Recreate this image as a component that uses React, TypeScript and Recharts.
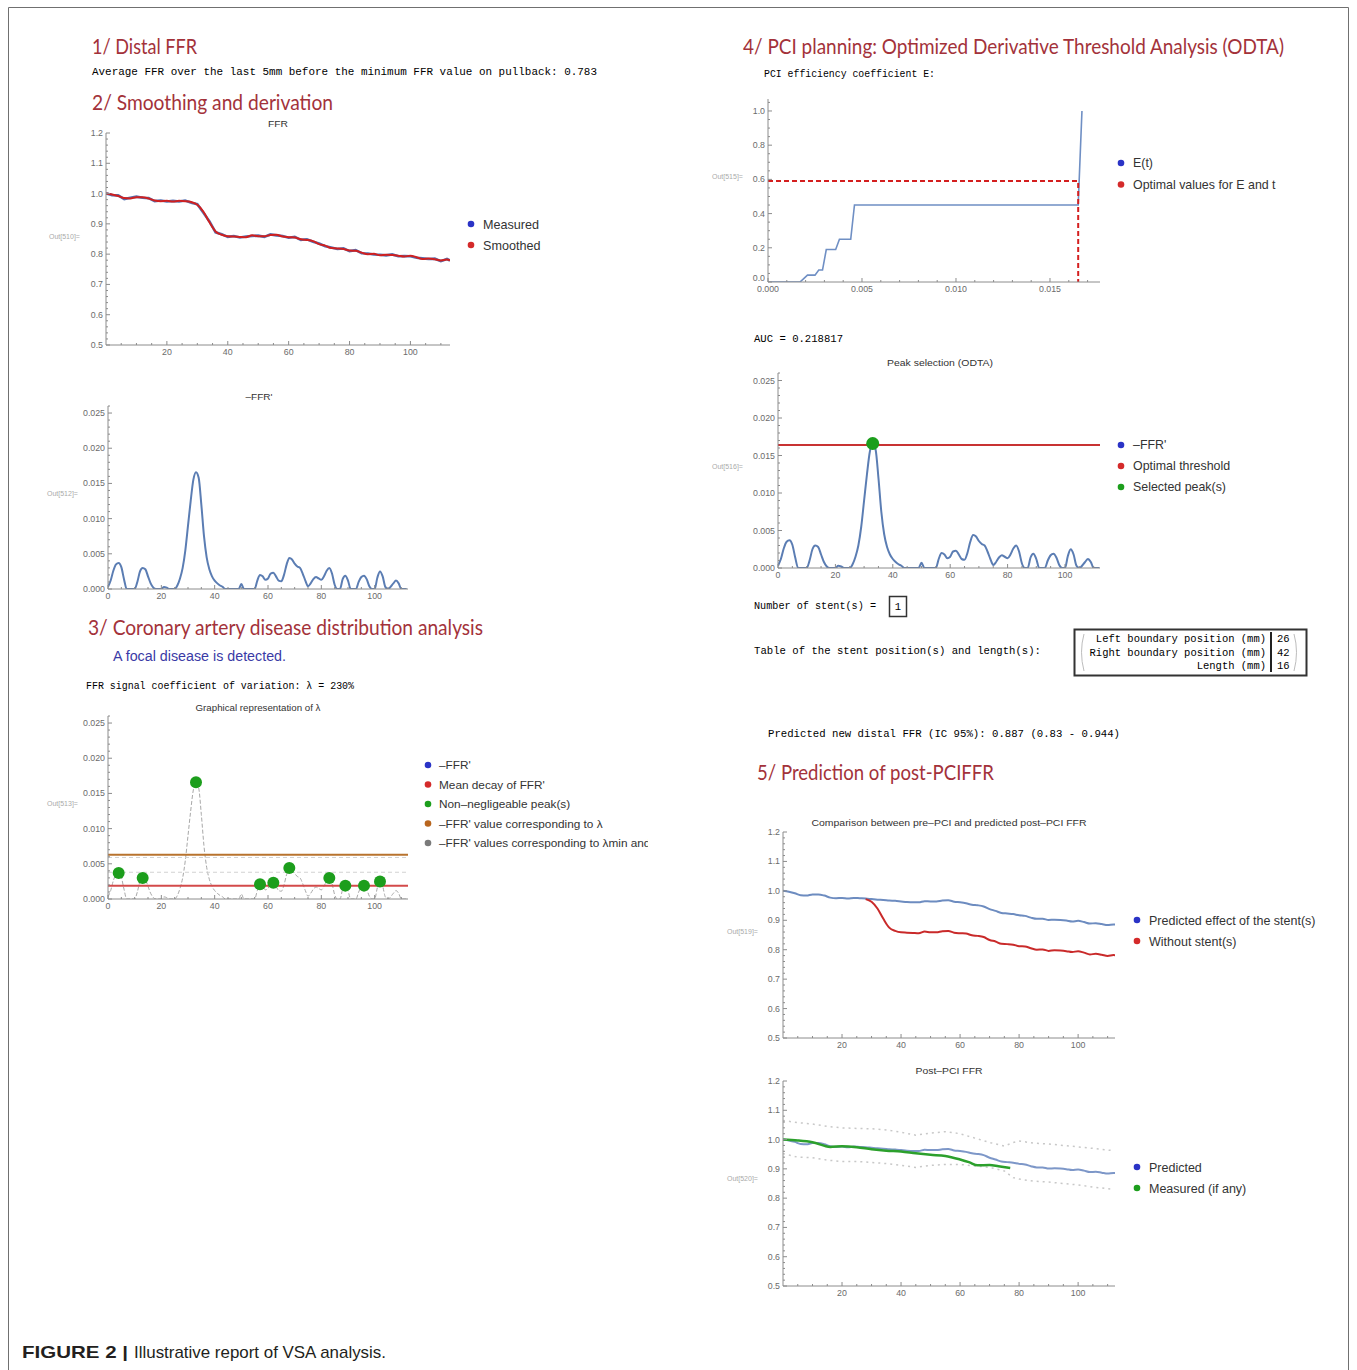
import React from 'react'
import { ComposedChart, Line, XAxis, YAxis, ReferenceLine } from 'recharts'

// pullback position (mm) and FFR
const pullbackMm = [0, 2, 4, 6, 8, 10, 12, 14, 16, 18, 20, 22, 24, 26, 28, 30, 32, 34, 36, 38, 40, 42, 44, 46, 48, 50, 52, 54, 56, 58, 60, 62, 64, 66, 68, 70, 72, 74, 76, 78, 80, 82, 84, 86, 88, 90, 92, 94, 96, 98, 100, 102, 104, 106, 108, 110, 112, 113]
const ffrMeasured = [1.001, 0.995, 0.994, 0.982, 0.986, 0.99, 0.986, 0.985, 0.975, 0.977, 0.974, 0.976, 0.974, 0.977, 0.97, 0.965, 0.937, 0.908, 0.872, 0.866, 0.857, 0.86, 0.855, 0.858, 0.86, 0.861, 0.857, 0.865, 0.862, 0.86, 0.854, 0.857, 0.847, 0.849, 0.841, 0.835, 0.826, 0.822, 0.817, 0.819, 0.81, 0.813, 0.803, 0.802, 0.799, 0.798, 0.796, 0.799, 0.793, 0.794, 0.793, 0.788, 0.786, 0.784, 0.785, 0.777, 0.784, 0.779]
const ffrSmoothed = [1.0, 0.997, 0.992, 0.985, 0.984, 0.988, 0.988, 0.984, 0.977, 0.975, 0.976, 0.974, 0.976, 0.975, 0.972, 0.963, 0.94, 0.905, 0.875, 0.864, 0.859, 0.858, 0.857, 0.856, 0.862, 0.859, 0.859, 0.863, 0.864, 0.858, 0.856, 0.855, 0.849, 0.847, 0.843, 0.833, 0.828, 0.82, 0.819, 0.817, 0.812, 0.811, 0.805, 0.8, 0.801, 0.796, 0.798, 0.797, 0.795, 0.792, 0.795, 0.79, 0.784, 0.786, 0.783, 0.779, 0.782, 0.78]
const postPredicted = [1.0, 0.997, 0.992, 0.985, 0.984, 0.988, 0.988, 0.984, 0.977, 0.975, 0.976, 0.974, 0.976, 0.975, 0.974, 0.972, 0.97, 0.969, 0.967, 0.966, 0.964, 0.962, 0.961, 0.961, 0.965, 0.964, 0.964, 0.967, 0.968, 0.963, 0.961, 0.958, 0.953, 0.951, 0.947, 0.938, 0.932, 0.925, 0.923, 0.921, 0.917, 0.915, 0.909, 0.905, 0.905, 0.901, 0.902, 0.901, 0.899, 0.896, 0.898, 0.894, 0.889, 0.89, 0.887, 0.884, 0.886, 0.885]
const stentStartMm = 28

// -FFR'
const derivMm = [0, 1, 2, 3, 4, 5, 6, 7, 10, 11, 12, 13, 14, 15, 16, 17, 18, 20, 21, 22, 23, 25, 26, 27, 28, 29, 30, 31, 32, 33, 34, 35, 36, 37, 38, 39, 40, 41, 42, 43, 44, 49, 50, 51, 55, 56, 57, 58, 59, 60, 61, 62, 63, 64, 65, 66, 67, 68, 69, 70, 71, 72, 73, 74, 75, 76, 77, 78, 79, 80, 81, 82, 83, 84, 85, 86, 87, 88, 89, 90, 91, 93, 94, 95, 96, 97, 98, 99, 100, 101, 102, 103, 104, 105, 107, 108, 109, 110, 112]
const derivValues = [0.0003, 0.0012, 0.0026, 0.0035, 0.0037, 0.0031, 0.0014, 0, 0, 0.001, 0.0025, 0.003, 0.0028, 0.0018, 0.0008, 0.0002, 0, 0, 0.0003, 0.0002, 0, 0, 0.0005, 0.0015, 0.003, 0.0055, 0.009, 0.0125, 0.0155, 0.0166, 0.0158, 0.012, 0.0075, 0.0045, 0.0028, 0.0018, 0.0012, 0.0008, 0.0005, 0.0003, 0, 0, 0.0007, 0, 0, 0.0012, 0.002, 0.0018, 0.0013, 0.0015, 0.0022, 0.0023, 0.0018, 0.0012, 0.0011, 0.002, 0.0035, 0.0044, 0.0042, 0.0036, 0.0032, 0.003, 0.0022, 0.0012, 0.0004, 0.0008, 0.0014, 0.0017, 0.0015, 0.0013, 0.0018, 0.0026, 0.003, 0.0022, 0.0006, 0, 0, 0.0014, 0.0019, 0.0012, 0, 0, 0.001, 0.0017, 0.0019, 0.0014, 0.0004, 0, 0, 0.0016, 0.0025, 0.0018, 0.0003, 0, 0.0008, 0.0012, 0.0008, 0, 0]
const peakMm = [4, 13, 33, 57, 62, 68, 83, 89, 96, 102]
const peakValues = [0.0037, 0.003, 0.0166, 0.0021, 0.0023, 0.0044, 0.003, 0.0019, 0.0019, 0.0025]
const lambdaLevel = 0.0063
const meanDecay = 0.0019
const lambdaBounds = [0.0059, 0.0038]

// PCI efficiency coefficient
const eT = [0, 0.0017, 0.0019, 0.0021, 0.0025, 0.0027, 0.0029, 0.0031, 0.0036, 0.0038, 0.0044, 0.0046, 0.0165, 0.0167]
const eValues = [0, 0, 0.02, 0.04, 0.04, 0.07, 0.07, 0.19, 0.19, 0.25, 0.25, 0.45, 0.45, 1.0]
const optimalT = 0.0165
const optimalE = 0.59
const odtaThreshold = 0.0164
const selectedPeakMm = [33]
const selectedPeakValues = [0.0166]

// post-PCI
const measuredPostMm = [0, 5, 10, 16, 20, 25, 30, 35, 40, 45, 50, 55, 60, 63, 66, 70, 73, 77]
const measuredPost = [1.0, 0.997, 0.991, 0.975, 0.977, 0.974, 0.967, 0.962, 0.959, 0.953, 0.948, 0.944, 0.932, 0.923, 0.912, 0.913, 0.909, 0.903]
const bandMm = [0, 5, 10, 15, 20, 25, 30, 35, 40, 45, 50, 55, 60, 65, 70, 75, 78, 80, 85, 90, 95, 100, 105, 112]
const bandUpper = [1.065, 1.058, 1.053, 1.045, 1.04, 1.038, 1.037, 1.033, 1.025, 1.015, 1.022, 1.027, 1.02, 1.005, 0.99, 0.978, 0.99, 0.995, 0.988, 0.985, 0.98, 0.975, 0.97, 0.962]
const bandLower = [0.952, 0.94, 0.938, 0.93, 0.925, 0.925, 0.922, 0.918, 0.912, 0.905, 0.912, 0.915, 0.915, 0.91, 0.905, 0.893, 0.87, 0.865, 0.858, 0.855, 0.85, 0.845, 0.838, 0.83]

// ticks
const mmTicks = [20, 40, 60, 80, 100]
const mmTicksZero = [0, 20, 40, 60, 80, 100]
const ffrTicks = [0.5, 0.6, 0.7, 0.8, 0.9, 1.0, 1.1, 1.2]
const derivTicks = [0, 0.005, 0.01, 0.015, 0.02, 0.025]
const eTicksX = [0, 0.005, 0.01, 0.015]
const eTicksY = [0, 0.2, 0.4, 0.6, 0.8, 1.0]

const steps = (from: number, to: number, step: number) => {
  const out: number[] = []
  for (let v = from; v <= to + step / 1000; v += step) out.push(Number(v.toFixed(6)))
  return out
}
const pts = (xs: number[], ys: number[]) => xs.map((x, i) => ({ x, y: ys[i] }))
const merge = (a: number[], b: number[]) => Array.from(new Set([...a, ...b])).sort((p, q) => p - q)
const isMajor = (majors: number[], v: number) => majors.some(m => Math.abs(m - v) < 1e-9)

const blue = '#5b7db3'
const red = '#c92a2a'
const green = '#1c9e1c'
const axisGray = '#8c8c8c'
const tickText = { fontSize: 8.8, fill: '#6b6b6b', fontFamily: '"Liberation Sans", Arial, sans-serif' }
const f1 = (v: number) => v.toFixed(1)
const f3 = (v: number) => v.toFixed(3)
const fInt = (v: number) => String(v)

// Mathematica-like ticks: pointing into the plot, short minor ticks without labels
const xTick = (majors: number[], fmt: (v: number) => string) => (props: any) => {
  const { x, y, payload } = props
  const major = isMajor(majors, payload.value)
  return (
    <g>
      <line x1={x} x2={x} y1={y} y2={y - (major ? 4 : 2)} stroke={axisGray} />
      {major && <text x={x} y={y + 10} textAnchor="middle" {...tickText}>{fmt(payload.value)}</text>}
    </g>
  )
}
const yTick = (majors: number[], fmt: (v: number) => string, liftMin: number) => (props: any) => {
  const { x, y, payload } = props
  const major = isMajor(majors, payload.value)
  const lift = payload.value === majors[0] ? liftMin : 0
  return (
    <g>
      <line x1={x} x2={x + (major ? 4 : 2)} y1={y} y2={y} stroke={axisGray} />
      {major && <text x={x - 3} y={y + 3 - lift} textAnchor="end" {...tickText}>{fmt(payload.value)}</text>}
    </g>
  )
}

type Box = { left: number; top: number; right: number; bottom: number }
const YW = 34
const XH = 16
const PAD = 4

function Plot(p: {
  box: Box
  xDomain: [number, number]
  xTicks: number[]
  xMinor: number[]
  yDomain: [number, number]
  yTicks: number[]
  yMinor: number[]
  xFmt: (v: number) => string
  yFmt: (v: number) => string
  liftMin?: number
  children: React.ReactNode
}) {
  const width = p.box.right - p.box.left + YW + PAD
  const height = p.box.bottom - p.box.top + PAD + XH
  return (
    <div style={{ position: 'absolute', left: p.box.left - YW, top: p.box.top - PAD, width, height }}>
      <ComposedChart width={width} height={height} margin={{ top: PAD, right: PAD, bottom: 0, left: 0 }}>
        <XAxis type="number" dataKey="x" domain={p.xDomain} ticks={merge(p.xTicks, p.xMinor)} interval={0} height={XH}
          tickSize={0} tickMargin={0} tickLine={false} tick={xTick(p.xTicks, p.xFmt)} axisLine={{ stroke: axisGray }} allowDataOverflow />
        <YAxis type="number" dataKey="y" domain={p.yDomain} ticks={merge(p.yTicks, p.yMinor)} interval={0} width={YW}
          tickSize={0} tickMargin={0} tickLine={false} tick={yTick(p.yTicks, p.yFmt, p.liftMin ?? 0)} axisLine={{ stroke: axisGray }} allowDataOverflow />
        {p.children}
      </ComposedChart>
    </div>
  )
}

// page texts
const headings = [
  { text: '1/ Distal FFR', x: 92, y: 54, w: 105 },
  { text: '2/ Smoothing and derivation', x: 92, y: 110, w: 241 },
  { text: '3/ Coronary artery disease distribution analysis', x: 88, y: 635, w: 395 },
  { text: '4/ PCI planning: Optimized Derivative Threshold Analysis (ODTA)', x: 743, y: 54, w: 541 },
  { text: '5/ Prediction of post-PCIFFR', x: 757, y: 780, w: 237 },
]
const monoLines = [
  { text: 'Average FFR over the last 5mm before the minimum FFR value on pullback: 0.783', x: 92, y: 75, w: 505 },
  { text: 'FFR signal coefficient of variation: λ = 230%', x: 86, y: 689, w: 268 },
  { text: 'PCI efficiency coefficient E:', x: 764, y: 77, w: 171 },
  { text: 'AUC = 0.218817', x: 754, y: 342, w: 89 },
  { text: 'Number of stent(s) =', x: 754, y: 609, w: 122 },
  { text: 'Table of the stent position(s) and length(s):', x: 754, y: 654, w: 287 },
  { text: 'Predicted new distal FFR (IC 95%): 0.887 (0.83 - 0.944)', x: 768, y: 737, w: 352 },
]
const tableLabels = ['Left boundary position (mm)', 'Right boundary position (mm)', 'Length (mm)']
const tableValues = ['26', '42', '16']
const chartTitles = [
  { text: 'FFR', x: 278, y: 127, w: 20 },
  { text: '–FFR\'', x: 259, y: 400, w: 27 },
  { text: 'Graphical representation of λ', x: 258, y: 711, w: 125 },
  { text: 'Peak selection (ODTA)', x: 940, y: 366, w: 106 },
  { text: 'Comparison between pre–PCI and predicted post–PCI FFR', x: 949, y: 826, w: 275 },
  { text: 'Post–PCI FFR', x: 949, y: 1074, w: 67 },
]
const outLabels = [
  { text: 'Out[510]=', x: 49, y: 239 },
  { text: 'Out[512]=', x: 47, y: 496 },
  { text: 'Out[513]=', x: 47, y: 806 },
  { text: 'Out[515]=', x: 712, y: 179 },
  { text: 'Out[516]=', x: 712, y: 469 },
  { text: 'Out[519]=', x: 727, y: 934 },
  { text: 'Out[520]=', x: 727, y: 1181 },
]
const legends = [
  { dotX: 471, textX: 483, y0: 224, gap: 21, size: 12.6, labels: ['Measured', 'Smoothed'], colors: ['#2a33c6', '#d42a2a'] },
  { dotX: 428, textX: 439, y0: 765, gap: 19.5, size: 11.8, labels: ['–FFR\'', 'Mean decay of FFR\'', 'Non–negligeable peak(s)', '–FFR\' value corresponding to λ', '–FFR\' values corresponding to λmin and λmax'], colors: ['#2a33c6', '#d42a2a', '#1c9e1c', '#b8651e', '#7a7a7a'] },
  { dotX: 1121, textX: 1133, y0: 163, gap: 21.5, size: 12.4, labels: ['E(t)', 'Optimal values for E and t'], colors: ['#2a33c6', '#d42a2a'] },
  { dotX: 1121, textX: 1133, y0: 445, gap: 21, size: 12.4, labels: ['–FFR\'', 'Optimal threshold', 'Selected peak(s)'], colors: ['#2a33c6', '#d42a2a', '#1c9e1c'] },
  { dotX: 1137, textX: 1149, y0: 920, gap: 21, size: 12.5, labels: ['Predicted effect of the stent(s)', 'Without stent(s)'], colors: ['#2a33c6', '#d42a2a'] },
  { dotX: 1137, textX: 1149, y0: 1167, gap: 21, size: 12.5, labels: ['Predicted', 'Measured (if any)'], colors: ['#2a33c6', '#1c9e1c'] },
]

const sans = '"Liberation Sans", Arial, sans-serif'
const mono = '"Liberation Mono", monospace'

function Page() {
  return (
    <svg width={1357} height={1370} style={{ position: 'absolute', left: 0, top: 0 }}>
      <defs>
        <clipPath id="legendCut"><rect x={0} y={0} width={648} height={1370} /></clipPath>
      </defs>
      <rect width={1357} height={1370} fill="#fff" />
      <path d="M8.5 1370 V7.5 H1348.5 V1370" fill="none" stroke="#707070" />
      {headings.map(h => (
        <text key={h.text} x={h.x} y={h.y} textLength={h.w} lengthAdjust="spacingAndGlyphs"
          style={{ fontFamily: 'Lato, sans-serif', fontSize: 21, fill: '#a3323a' }}>{h.text}</text>
      ))}
      {monoLines.map(m => (
        <text key={m.text} x={m.x} y={m.y} textLength={m.w} lengthAdjust="spacingAndGlyphs"
          style={{ fontFamily: mono, fontSize: 10.5, fill: '#000' }}>{m.text}</text>
      ))}
      <text x={113} y={661} textLength={173} lengthAdjust="spacingAndGlyphs"
        style={{ fontFamily: sans, fontSize: 14, fill: '#3a3aa6' }}>A focal disease is detected.</text>
      <rect x={889.5} y={596.5} width={17} height={20} fill="none" stroke="#333" strokeWidth={1.5} />
      <text x={898} y={610} textAnchor="middle" style={{ fontFamily: mono, fontSize: 10.5, fill: '#000' }}>1</text>
      <rect x={1074.5} y={629.5} width={232} height={46} fill="none" stroke="#333" strokeWidth={2} />
      <path d="M1084 634 Q1079 652 1084 671 M1294 634 Q1299 652 1294 671" fill="none" stroke="#bdbdbd" />
      <line x1={1271} y1={632} x2={1271} y2={672} stroke="#222" strokeWidth={2} />
      {tableLabels.map((t, i) => (
        <text key={t} x={1266} y={642 + i * 13.5} textAnchor="end" style={{ fontFamily: mono, fontSize: 10.5, fill: '#000' }}>{t}</text>
      ))}
      {tableValues.map((t, i) => (
        <text key={t} x={1277} y={642 + i * 13.5} style={{ fontFamily: mono, fontSize: 10.5, fill: '#000' }}>{t}</text>
      ))}
      {chartTitles.map(c => (
        <text key={c.text} x={c.x} y={c.y} textAnchor="middle" textLength={c.w} lengthAdjust="spacingAndGlyphs"
          style={{ fontFamily: sans, fontSize: 9, fill: '#333' }}>{c.text}</text>
      ))}
      {outLabels.map(o => (
        <text key={o.text} x={o.x} y={o.y} style={{ fontFamily: sans, fontSize: 7, fill: '#aaa' }}>{o.text}</text>
      ))}
      {legends.map((l, li) => (
        <g key={li} clipPath={li === 1 ? 'url(#legendCut)' : undefined}>
          {l.labels.map((lab, i) => (
            <g key={lab}>
              <circle cx={l.dotX} cy={l.y0 + i * l.gap} r={3.3} fill={l.colors[i]} />
              <text x={l.textX} y={l.y0 + i * l.gap + l.size * 0.36} style={{ fontFamily: sans, fontSize: l.size, fill: '#333' }}>{lab}</text>
            </g>
          ))}
        </g>
      ))}
      <text x={22} y={1358} textLength={106} lengthAdjust="spacingAndGlyphs"
        style={{ fontFamily: sans, fontSize: 17, fontWeight: 700, fill: '#231f20' }}>FIGURE 2 |</text>
      <text x={134} y={1358} textLength={252} lengthAdjust="spacingAndGlyphs"
        style={{ fontFamily: sans, fontSize: 17, fill: '#231f20' }}>Illustrative report of VSA analysis.</text>
    </svg>
  )
}

export default function App() {
  const ffrMeasuredData = pts(pullbackMm, ffrMeasured)
  const ffrSmoothedData = pts(pullbackMm, ffrSmoothed)
  const derivData = pts(derivMm, derivValues)
  const peakData = pts(peakMm, peakValues)
  const eData = pts(eT, eValues)
  const optimalData = [{ x: 0, y: optimalE }, { x: optimalT, y: optimalE }, { x: optimalT, y: 0 }]
  const selectedData = pts(selectedPeakMm, selectedPeakValues)
  const predictedData = pts(pullbackMm, postPredicted)
  const withoutStentData = ffrSmoothedData.filter(d => d.x >= stentStartMm)
  const measuredPostData = pts(measuredPostMm, measuredPost)
  const upperData = pts(bandMm, bandUpper)
  const lowerData = pts(bandMm, bandLower)

  const mmMinor = steps(5, 110, 5)
  const ffrMinor = steps(0.52, 1.2, 0.02)
  const derivMinor = steps(0.001, 0.026, 0.001)

  return (
    <div style={{ position: 'absolute', left: 0, top: 0, width: 1357, height: 1370, background: '#fff', overflow: 'hidden' }}>
      <Page />

      <Plot box={{ left: 106, top: 133, right: 450, bottom: 345 }} xDomain={[0, 113]} xTicks={mmTicks} xMinor={mmMinor}
        yDomain={[0.5, 1.2]} yTicks={ffrTicks} yMinor={ffrMinor} xFmt={fInt} yFmt={f1}>
        <Line data={ffrMeasuredData} dataKey="y" type="linear" stroke="#5470b0" strokeWidth={2.6} dot={false} isAnimationActive={false} />
        <Line data={ffrSmoothedData} dataKey="y" type="monotone" stroke="#cf2020" strokeWidth={2} dot={false} isAnimationActive={false} />
      </Plot>

      <Plot box={{ left: 108, top: 406, right: 408, bottom: 589 }} xDomain={[0, 112.5]} xTicks={mmTicksZero} xMinor={mmMinor}
        yDomain={[0, 0.026]} yTicks={derivTicks} yMinor={derivMinor} xFmt={fInt} yFmt={f3}>
        <Line data={derivData} dataKey="y" type="monotone" stroke={blue} strokeWidth={2} dot={false} isAnimationActive={false} />
      </Plot>

      <Plot box={{ left: 108, top: 716, right: 408, bottom: 899 }} xDomain={[0, 112.5]} xTicks={mmTicksZero} xMinor={mmMinor}
        yDomain={[0, 0.026]} yTicks={derivTicks} yMinor={derivMinor} xFmt={fInt} yFmt={f3}>
        <Line data={derivData} dataKey="y" type="monotone" stroke="#a8a8a8" strokeWidth={1} strokeDasharray="4 2" dot={false} isAnimationActive={false} />
        {lambdaBounds.map(v => (
          <ReferenceLine key={v} y={v} stroke="#d2d2d2" strokeDasharray="4 3" />
        ))}
        <ReferenceLine y={lambdaLevel} stroke="#b8732e" strokeWidth={2} />
        <ReferenceLine y={meanDecay} stroke="#d34a4a" strokeWidth={2} />
        <Line data={peakData} dataKey="y" stroke="none" dot={{ r: 6, fill: green, stroke: 'none' }} isAnimationActive={false} />
      </Plot>

      <Plot box={{ left: 768, top: 99, right: 1100, bottom: 282 }} xDomain={[0, 0.01766]} xTicks={eTicksX} xMinor={steps(0.001, 0.017, 0.001)}
        yDomain={[0, 1.07]} yTicks={eTicksY} yMinor={steps(0.05, 1.05, 0.05)} xFmt={f3} yFmt={f1} liftMin={4}>
        <Line data={eData} dataKey="y" type="linear" stroke="#6f8fc4" strokeWidth={1.6} dot={false} isAnimationActive={false} />
        <Line data={optimalData} dataKey="y" type="linear" stroke="#d41f1f" strokeWidth={2} strokeDasharray="5 3" dot={false} isAnimationActive={false} />
      </Plot>

      <Plot box={{ left: 778, top: 373, right: 1100, bottom: 568 }} xDomain={[0, 112.2]} xTicks={mmTicksZero} xMinor={mmMinor}
        yDomain={[0, 0.026]} yTicks={derivTicks} yMinor={derivMinor} xFmt={fInt} yFmt={f3}>
        <Line data={derivData} dataKey="y" type="monotone" stroke={blue} strokeWidth={2} dot={false} isAnimationActive={false} />
        <ReferenceLine y={odtaThreshold} stroke="#c83232" strokeWidth={2} />
        <Line data={selectedData} dataKey="y" stroke="none" dot={{ r: 6.5, fill: green, stroke: 'none' }} isAnimationActive={false} />
      </Plot>

      <Plot box={{ left: 783, top: 832, right: 1115, bottom: 1038 }} xDomain={[0, 112.5]} xTicks={mmTicks} xMinor={mmMinor}
        yDomain={[0.5, 1.2]} yTicks={ffrTicks} yMinor={ffrMinor} xFmt={fInt} yFmt={f1}>
        <Line data={predictedData} dataKey="y" type="monotone" stroke="#6d8cc0" strokeWidth={2} dot={false} isAnimationActive={false} />
        <Line data={withoutStentData} dataKey="y" type="monotone" stroke={red} strokeWidth={2} dot={false} isAnimationActive={false} />
      </Plot>

      <Plot box={{ left: 783, top: 1081, right: 1115, bottom: 1286 }} xDomain={[0, 112.5]} xTicks={mmTicks} xMinor={mmMinor}
        yDomain={[0.5, 1.2]} yTicks={ffrTicks} yMinor={ffrMinor} xFmt={fInt} yFmt={f1}>
        <Line data={upperData} dataKey="y" type="linear" stroke="#c8c8c8" strokeWidth={1.5} strokeDasharray="2 4" dot={false} isAnimationActive={false} />
        <Line data={lowerData} dataKey="y" type="linear" stroke="#c8c8c8" strokeWidth={1.5} strokeDasharray="2 4" dot={false} isAnimationActive={false} />
        <Line data={predictedData} dataKey="y" type="monotone" stroke="#7d97c8" strokeWidth={2} dot={false} isAnimationActive={false} />
        <Line data={measuredPostData} dataKey="y" type="monotone" stroke="#2ca02c" strokeWidth={2.5} dot={false} isAnimationActive={false} />
      </Plot>
    </div>
  )
}
